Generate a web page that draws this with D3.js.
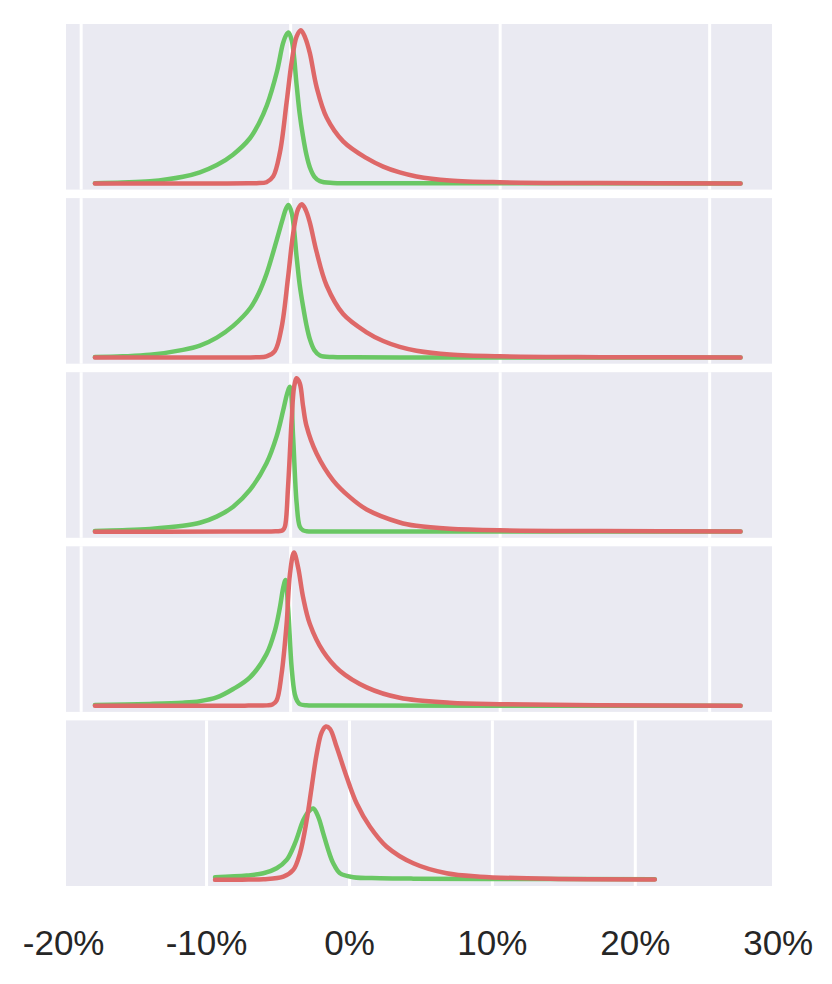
<!DOCTYPE html>
<html>
<head>
<meta charset="utf-8">
<script src="https://cdn.jsdelivr.net/npm/d3@7"></script>
<style>
  body { margin: 0; background: #fff; }
  svg { display: block; font-family: "Liberation Sans", Arial, sans-serif; }
</style>
</head>
<body>
<svg></svg>
<script>
// Each curve is a list of [return %, density] pairs
const p1Green = [[-9.32, 0.2], [-8.0, 0.6], [-6.69, 1.4], [-5.12, 4.4], [-4.31, 7.3], [-3.5, 12.0], [-2.73, 18.8], [-1.92, 29.5], [-1.5, 39], [-1.11, 51], [-0.63, 73], [-0.35, 91], [-0.2, 96.5], [-0.08, 98.5], [0.08, 93], [0.31, 64], [0.45, 46], [0.61, 31], [0.78, 18.5], [0.94, 10.5], [1.15, 4.5], [1.42, 1.5], [2.04, 0.3], [3.0, 0.15], [5.2, 0.1], [21.5, 0.05]];
const p1Red = [[-9.32, 0], [-3, 0.05], [-2.0, 0.1], [-1.6, 0.2], [-1.13, 0.8], [-0.81, 4.6], [-0.49, 20.2], [-0.17, 52.9], [0.07, 79], [0.31, 96], [0.51, 100], [0.72, 95], [0.94, 85], [1.26, 63], [1.74, 43], [2.53, 27.5], [3.65, 16.5], [4.44, 11.0], [5.23, 7.2], [6.03, 4.6], [7.62, 2.0], [10.0, 0.8], [14.8, 0.25], [21.5, 0.05]];

const p2Green = [[-9.32, 0.3], [-8.0, 0.8], [-6.69, 1.8], [-5.12, 5.0], [-4.31, 7.8], [-3.5, 13.0], [-2.72, 20.7], [-1.92, 32], [-1.5, 42], [-1.13, 54.5], [-0.65, 76.3], [-0.33, 91.6], [-0.2, 97], [-0.08, 99.5], [0.08, 94], [0.31, 65.4], [0.45, 48], [0.62, 33], [0.78, 21], [0.94, 12], [1.15, 5], [1.42, 1.4], [2.04, 0.3], [3.0, 0.15], [5.2, 0.1], [21.5, 0.05]];
const p2Red = [[-9.32, 0], [-3, 0.05], [-2.0, 0.1], [-1.6, 0.2], [-1.13, 0.7], [-0.73, 4.3], [-0.41, 19.6], [-0.1, 52.3], [0.14, 80.6], [0.38, 96.9], [0.56, 100], [0.75, 96], [0.94, 88], [1.26, 69], [1.74, 47], [2.53, 28.4], [3.65, 16.5], [4.44, 10.8], [5.23, 7.0], [6.03, 4.5], [7.62, 2.0], [10.0, 0.8], [14.8, 0.25], [21.5, 0.05]];

const p3Green = [[-9.32, 0.5], [-8.0, 1.0], [-6.69, 1.8], [-5.12, 3.8], [-4.31, 5.8], [-3.51, 9.8], [-2.72, 16.3], [-1.92, 27.2], [-1.13, 44.6], [-0.65, 62], [-0.33, 79.3], [-0.14, 90.2], [-0.01, 94.5], [0.14, 61.9], [0.31, 18.5], [0.46, 3.3], [0.62, 0.8], [0.78, 0.3], [1.2, 0.15], [2.0, 0.1], [21.5, 0.05]];
const p3Red = [[-9.32, 0], [-3, 0.05], [-1.8, 0.1], [-1.0, 0.15], [-0.7, 0.2], [-0.49, 0.4], [-0.35, 1.0], [-0.25, 3.3], [-0.1, 29.3], [0.07, 72.8], [0.19, 94.5], [0.31, 100], [0.46, 96.7], [0.62, 81.5], [0.78, 69], [1.26, 51], [2.05, 33.5], [2.85, 22.5], [3.65, 14.5], [5.23, 6.0], [6.03, 3.8], [7.62, 1.9], [10.0, 0.9], [14.8, 0.4], [21.5, 0.1]];

const p4Green = [[-9.32, 0.5], [-6.69, 1.2], [-5.12, 2.0], [-4.31, 3.0], [-3.51, 5.4], [-2.72, 10.9], [-1.92, 18.5], [-1.13, 33.7], [-0.73, 48.9], [-0.49, 64.1], [-0.33, 77.1], [-0.22, 82], [-0.1, 64.1], [0.07, 25], [0.22, 7.6], [0.34, 3.0], [0.46, 1.1], [0.78, 0.3], [1.2, 0.15], [2.0, 0.1], [21.5, 0.05]];
const p4Red = [[-9.32, 0], [-3, 0.05], [-2.0, 0.1], [-1.4, 0.15], [-1.1, 0.25], [-0.85, 0.8], [-0.65, 3.3], [-0.41, 20.7], [-0.17, 53.3], [-0.01, 85.9], [0.18, 100], [0.38, 90.2], [0.62, 70.6], [0.94, 53.3], [1.57, 35.5], [2.37, 22.8], [3.65, 12], [5.23, 5.2], [7.62, 2.0], [10.0, 1.0], [14.8, 0.3], [21.5, 0.05]];

const p5Green = [[-9.37, 1.75], [-7.15, 2.8], [-5.99, 4.3], [-5.06, 7.6], [-4.36, 13], [-3.78, 23.8], [-3.2, 38.9], [-2.85, 44.3], [-2.5, 46.5], [-2.15, 41.1], [-1.8, 30.3], [-1.45, 19.5], [-1.1, 10.8], [-0.63, 4.3], [0.3, 1.75], [2.17, 1.1], [4.5, 0.8], [9.86, 0.6], [21.4, 0.45]];
const p5Red = [[-9.37, 0], [-7.5, 0.15], [-5.99, 0.45], [-4.59, 2.1], [-3.9, 6.5], [-3.43, 17.3], [-2.96, 38.9], [-2.61, 60.5], [-2.26, 82.1], [-1.91, 96.2], [-1.61, 100], [-1.33, 98.5], [-0.86, 86.6], [-0.16, 67.1], [0.54, 49.8], [1.47, 34.6], [2.64, 21.6], [4.5, 10.8], [6.83, 4.3], [9.16, 2.1], [14.1, 0.65], [21.4, 0.3]];

// x limits of the upper four panels and of the bottom one (percent)
const topDomain = [-10.7, 23.0];
const bottomDomain = [-19.8, 29.6];

// Gridline positions and bottom tick labels
const gridTicks = [-20, -10, 0, 10, 20, 30];
const labelTicks = [-20, -10, 0, 10, 20, 30];

const panels = [
  { green: p1Green, red: p1Red, domain: topDomain },
  { green: p2Green, red: p2Red, domain: topDomain },
  { green: p3Green, red: p3Red, domain: topDomain },
  { green: p4Green, red: p4Red, domain: topDomain },
  { green: p5Green, red: p5Red, domain: bottomDomain }
];

// Layout
const width = 832, height = 984;
const plotLeft = 66, plotRight = 772;
const panelTop = 24, panelHeight = 165.6, panelGap = 8.5;
const bgColor = "#EAEAF2";
const greenColor = "#6ac764";
const redColor = "#de6868";

const svg = d3.select("svg").attr("width", width).attr("height", height);

panels.forEach((p, i) => {
  const y0 = panelTop + i * (panelHeight + panelGap);
  const g = svg.append("g").attr("transform", `translate(0,${y0})`);

  const xScale = d3.scaleLinear().domain(p.domain).range([plotLeft, plotRight]);
  const ys = p.green.concat(p.red).map(d => d[1]);
  const [yMin, yMax] = d3.extent(ys);
  const pad = (yMax - yMin) * 0.04;
  const yScale = d3.scaleLinear().domain([yMin - pad, yMax + pad]).range([panelHeight, 0]);

  g.append("rect")
    .attr("x", plotLeft).attr("y", 0)
    .attr("width", plotRight - plotLeft).attr("height", panelHeight)
    .attr("fill", bgColor);

  // vertical white gridlines
  const inside = gridTicks.filter(t => t > p.domain[0] && t < p.domain[1]);
  const grid = g.append("g")
    .attr("transform", `translate(0,${panelHeight})`)
    .call(d3.axisBottom(xScale).tickValues(inside).tickSize(-panelHeight).tickFormat(""));
  grid.select(".domain").remove();
  grid.selectAll(".tick line").attr("stroke", "#fff").attr("stroke-width", 3);

  const line = d3.line()
    .x(d => xScale(d[0]))
    .y(d => yScale(d[1]))
    .curve(d3.curveCatmullRom.alpha(0.5));

  [[p.green, greenColor], [p.red, redColor]].forEach(([data, color]) => {
    g.append("path")
      .datum(data)
      .attr("fill", "none")
      .attr("stroke", color)
      .attr("stroke-width", 4.5)
      .attr("stroke-linecap", "round")
      .attr("stroke-linejoin", "round")
      .attr("d", line);
  });

  // tick labels only under the last panel
  if (i === panels.length - 1) {
    const ax = g.append("g")
      .attr("transform", `translate(0,${panelHeight})`)
      .call(d3.axisBottom(xScale)
        .tickValues(labelTicks)
        .tickSize(0)
        .tickPadding(44)
        .tickFormat(d => d + "%"));
    ax.select(".domain").remove();
    ax.selectAll("text")
      .attr("fill", "#262626")
      .style("font-size", "35px")
      .style("font-family", "'Liberation Sans', Arial, sans-serif");
  }
});
</script>
</body>
</html>
